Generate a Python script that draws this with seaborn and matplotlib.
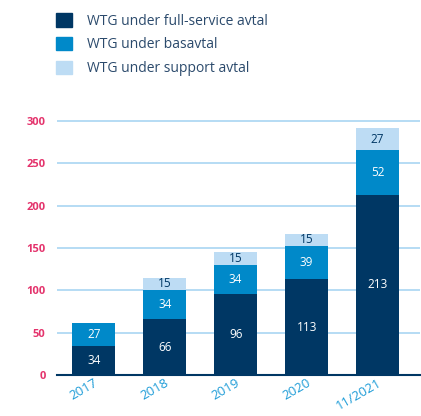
import numpy as np
import pandas as pd
from matplotlib import pyplot as plt
from matplotlib.patches import Patch
import seaborn as sns

years = ["2017", "2018", "2019", "2020", "11/2021"]
full_service = [34, 66, 96, 113, 213]
bas = [27, 34, 34, 39, 52]
support = [0, 15, 15, 15, 27]

c_full = "#003764"
c_bas = "#0089c9"
c_sup = "#bddcf4"
c_grid = "#a9d6f2"
c_pink = "#e4336c"
c_xtick = "#1b9bd7"
c_text = "#2b4a6c"

sns.set_style("white")
plt.rcParams['font.family'] = ['Open Sans', 'DejaVu Sans']

df = pd.DataFrame({"year": years, "full": full_service, "bas": bas, "sup": support})
df["lvl2"] = df["full"] + df["bas"]
df["lvl3"] = df["lvl2"] + df["sup"]

fig = plt.figure(figsize=(4.21, 4.16), dpi=100)
ax = fig.add_axes([0.135, 0.0986, 0.863, 0.615])

ax.grid(axis='y', color=c_grid, linewidth=1.2, zorder=0)
ax.set_axisbelow(True)
sns.barplot(x="year", y="lvl3", data=df, color=c_sup, width=0.6, saturation=1, linewidth=0, ax=ax, zorder=2)
sns.barplot(x="year", y="lvl2", data=df, color=c_bas, width=0.6, saturation=1, linewidth=0, ax=ax, zorder=3)
sns.barplot(x="year", y="full", data=df, color=c_full, width=0.6, saturation=1, linewidth=0, ax=ax, zorder=4)

for i in range(len(years)):
    ax.text(i, df["full"][i] / 2, str(df["full"][i]), ha='center', va='center',
            color='white', fontsize=8.5, zorder=5)
    ax.text(i, df["full"][i] + df["bas"][i] / 2, str(df["bas"][i]), ha='center', va='center',
            color='white', fontsize=8.5, zorder=5)
    if df["sup"][i] > 0:
        ax.text(i, df["lvl2"][i] + df["sup"][i] / 2, str(df["sup"][i]), ha='center', va='center',
                color=c_full, fontsize=8.5, zorder=5)

ax.set_xlim(-0.52, 4.6)
ax.set_ylim(0, 302)
ax.set_yticks([0, 50, 100, 150, 200, 250, 300])
ax.set_xlabel("")
ax.set_ylabel("")
for s in ["top", "right", "left"]:
    ax.spines[s].set_visible(False)
ax.spines["bottom"].set_color(c_full)
ax.spines["bottom"].set_linewidth(1.5)
ax.spines["bottom"].set_zorder(6)
ax.tick_params(axis='y', colors=c_pink, labelsize=8, length=0, pad=8)
for lab in ax.get_yticklabels():
    lab.set_fontweight('bold')
ax.tick_params(axis='x', colors=c_xtick, labelsize=9.5, length=0, pad=1)
plt.setp(ax.get_xticklabels(), rotation=30, ha='right', rotation_mode='anchor')

handles = [Patch(color=c_full), Patch(color=c_bas), Patch(color=c_sup)]
labels = ["WTG under full-service avtal", "WTG under basavtal", "WTG under support avtal"]
fig.legend(handles, labels, loc='upper left', bbox_to_anchor=(0.104, 0.998), frameon=False,
           handlelength=1.1, handleheight=1.1, handletextpad=1.1, labelspacing=0.6,
           fontsize=10, labelcolor=c_text)

plt.savefig("out.png", dpi=100)
